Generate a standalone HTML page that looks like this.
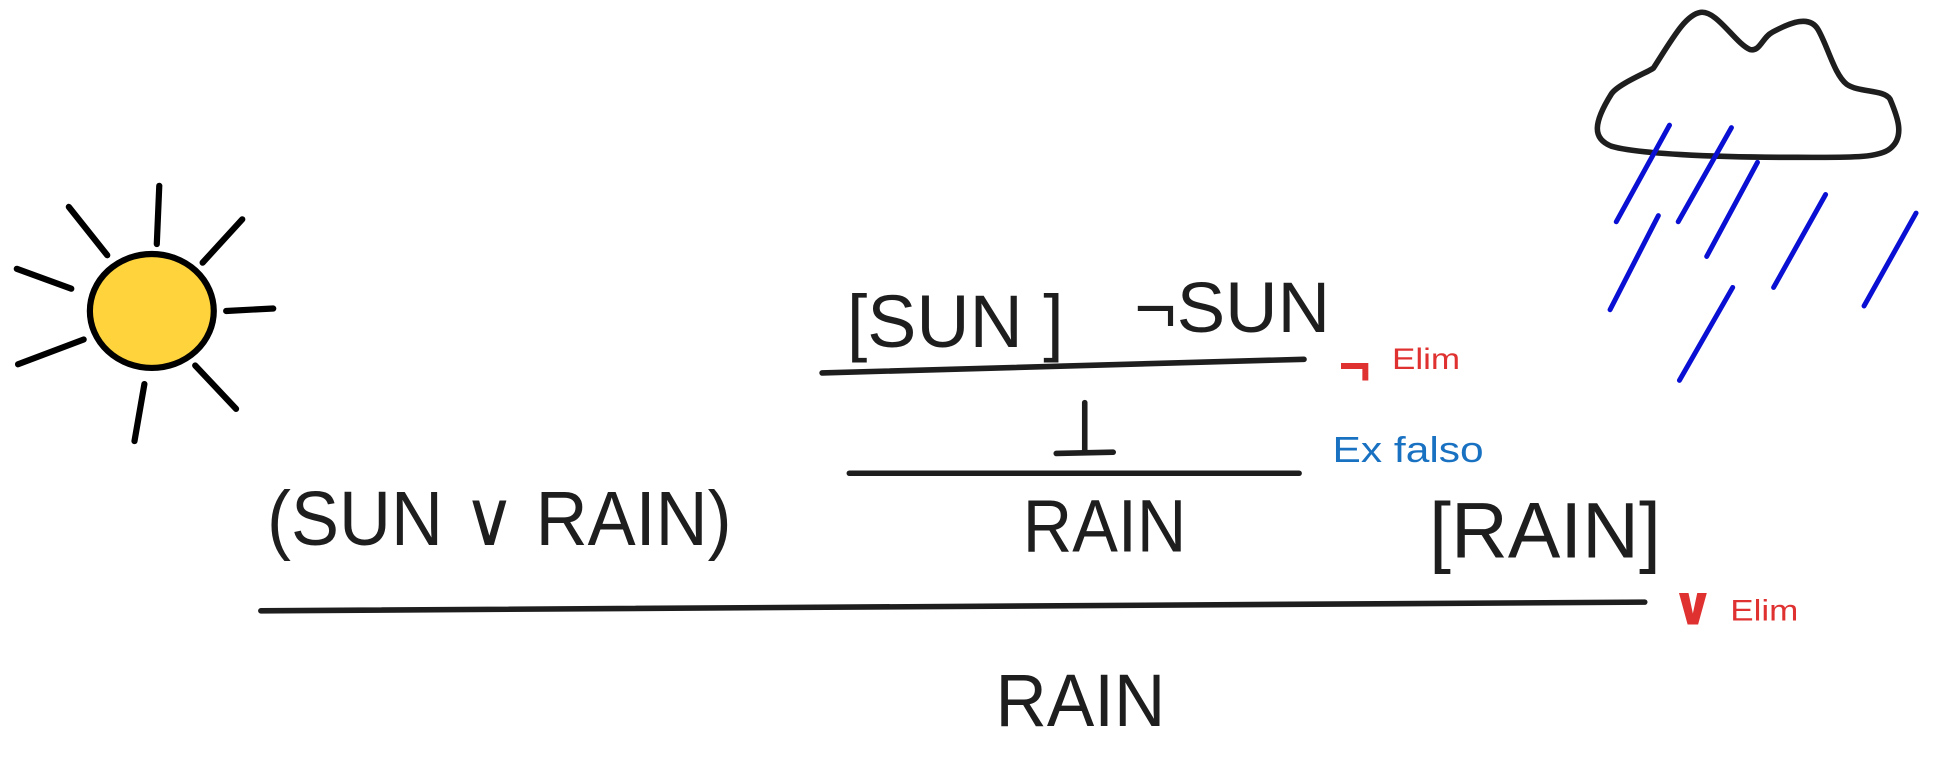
<!DOCTYPE html>
<html><head><style>html,body{margin:0;padding:0;background:#fff;}svg{display:block}</style></head>
<body>
<svg width="1944" height="783" viewBox="0 0 1568 632" xmlns="http://www.w3.org/2000/svg">
<g stroke="#000" stroke-width="5" stroke-linecap="round" fill="none">
<ellipse cx="122" cy="251" rx="50" ry="46" fill="#fed33b"/>
<line x1="126" y1="197" x2="128" y2="150"/>
<line x1="163" y1="212" x2="195" y2="177"/>
<line x1="182" y1="251" x2="220" y2="249"/>
<line x1="157" y1="295" x2="190" y2="330"/>
<line x1="116" y1="310" x2="108" y2="356"/>
<line x1="67" y1="274" x2="14" y2="294"/>
<line x1="57" y1="233" x2="13" y2="217"/>
<line x1="86" y1="206" x2="55" y2="167"/>
</g>
<path d="M1334 55 C1350 30 1360 12 1372 10 C1385 8 1400 35 1412 40 C1420 42 1422 30 1430 26 C1445 18 1460 12 1467 24 C1475 38 1480 60 1490 68 C1500 75 1520 72 1525 80 C1530 92 1538 110 1525 120 C1515 128 1490 127 1450 127 C1380 127 1320 124 1300 118 C1285 112 1285 100 1300 76 C1305 68 1330 58 1334 55 Z" fill="none" stroke="#1e1e1e" stroke-width="4.5" stroke-linejoin="round"/>
<g stroke="#0a0fd4" stroke-width="4" stroke-linecap="round">
<line x1="1347" y1="101" x2="1304" y2="179"/>
<line x1="1397" y1="103" x2="1354" y2="179"/>
<line x1="1418" y1="131" x2="1377" y2="207"/>
<line x1="1338" y1="174" x2="1299" y2="250"/>
<line x1="1473" y1="157" x2="1431" y2="232"/>
<line x1="1546" y1="172" x2="1504" y2="247"/>
<line x1="1398" y1="232" x2="1355" y2="307"/>
</g>
<g stroke="#1e1e1e" stroke-width="4.5" stroke-linecap="round">
<line x1="663" y1="301" x2="1052" y2="290"/>
<line x1="685" y1="382" x2="1048" y2="382"/>
<line x1="210" y1="493" x2="1327" y2="486"/>
<line x1="875" y1="325" x2="875" y2="365"/>
<line x1="852" y1="366" x2="898" y2="365"/>
</g>
<g font-family="Liberation Sans, DejaVu Sans, sans-serif" fill="#1e1e1e">
<text x="683" y="280" font-size="60" textLength="175" lengthAdjust="spacingAndGlyphs">[SUN ]</text>
<text x="915" y="268" font-size="58" textLength="158" lengthAdjust="spacingAndGlyphs">¬SUN</text>
<text x="215" y="440" font-size="62" textLength="375" lengthAdjust="spacingAndGlyphs">(SUN ∨ RAIN)</text>
<text x="825" y="445" font-size="60" textLength="132" lengthAdjust="spacingAndGlyphs">RAIN</text>
<text x="1153" y="450" font-size="64" textLength="187" lengthAdjust="spacingAndGlyphs">[RAIN]</text>
<text x="803" y="586" font-size="60" textLength="137" lengthAdjust="spacingAndGlyphs">RAIN</text>
<text x="1080" y="310" font-size="44" fill="#e03131" font-weight="bold">¬</text>
<text x="1123" y="298" font-size="24" fill="#e03131" textLength="55" lengthAdjust="spacingAndGlyphs">Elim</text>
<text x="1075" y="373" font-size="29" fill="#1971c2" textLength="122" lengthAdjust="spacingAndGlyphs">Ex falso</text>
<text x="1348" y="504" font-size="44" fill="#e03131" font-weight="bold">∨</text>
<text x="1396" y="501" font-size="24" fill="#e03131" textLength="55" lengthAdjust="spacingAndGlyphs">Elim</text>
</g>
</svg>
</body></html>
